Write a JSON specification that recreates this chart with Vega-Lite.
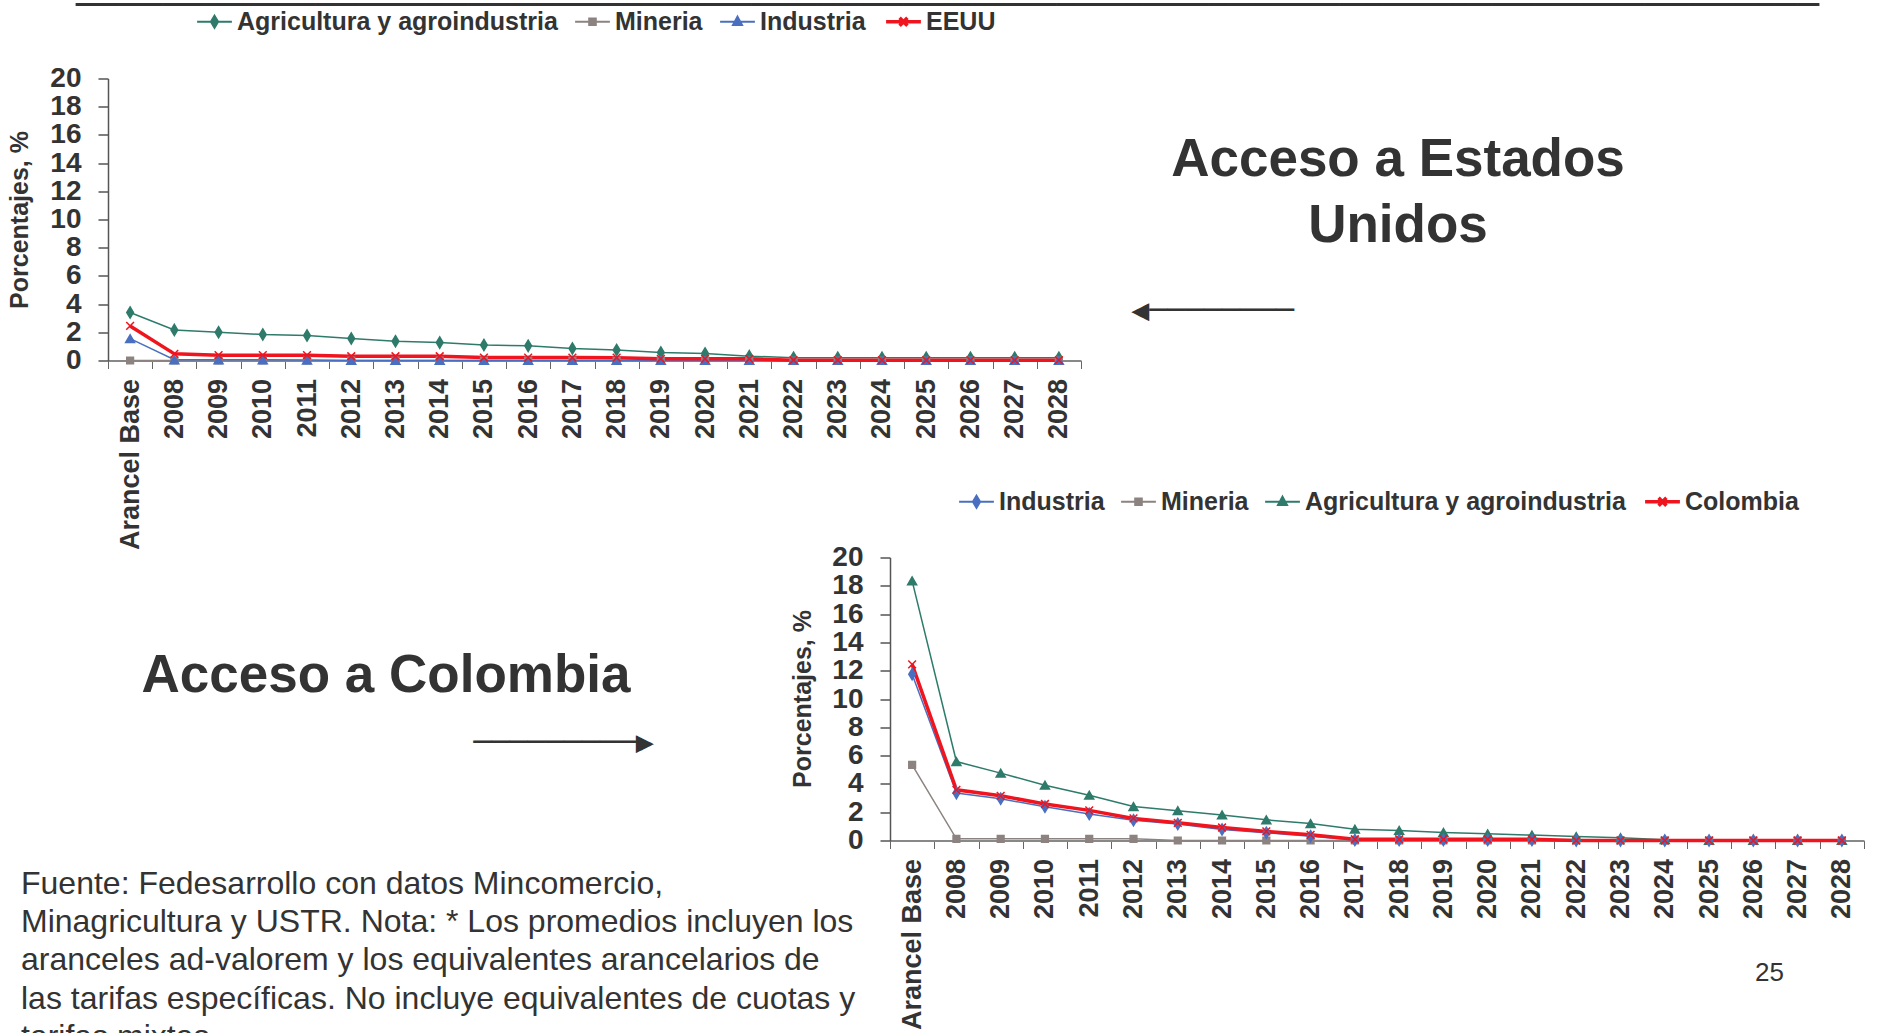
{
  "$schema": "https://vega.github.io/schema/vega-lite/v6.json",
  "autosize": {"type": "pad"},
  "padding": {"left": 7, "top": -12.5, "right": 0, "bottom": 0},
  "background": "white",
  "bounds": "flush",
  "spacing": 479,
  "config": {
    "view": {"stroke": null},
    "font": "Liberation Sans",
    "axis": {"labelFont": "Liberation Sans", "titleFont": "Liberation Sans", "grid": false},
    "legend": {"labelFont": "Liberation Sans"}
  },
  "resolve": {
    "scale": {"color": "independent", "shape": "independent", "stroke": "independent", "x": "independent", "y": "independent"},
    "legend": {"color": "independent", "shape": "independent"}
  },
  "datasets": {
    "eeuu": [
      {"c":"Arancel Base","s":"Agricultura y agroindustria","v":3.4},{"c":"2008","s":"Agricultura y agroindustria","v":2.17},{"c":"2009","s":"Agricultura y agroindustria","v":2.0},{"c":"2010","s":"Agricultura y agroindustria","v":1.84},{"c":"2011","s":"Agricultura y agroindustria","v":1.77},{"c":"2012","s":"Agricultura y agroindustria","v":1.56},{"c":"2013","s":"Agricultura y agroindustria","v":1.37},{"c":"2014","s":"Agricultura y agroindustria","v":1.27},{"c":"2015","s":"Agricultura y agroindustria","v":1.1},{"c":"2016","s":"Agricultura y agroindustria","v":1.04},{"c":"2017","s":"Agricultura y agroindustria","v":0.85},{"c":"2018","s":"Agricultura y agroindustria","v":0.75},{"c":"2019","s":"Agricultura y agroindustria","v":0.57},{"c":"2020","s":"Agricultura y agroindustria","v":0.5},{"c":"2021","s":"Agricultura y agroindustria","v":0.31},{"c":"2022","s":"Agricultura y agroindustria","v":0.19},{"c":"2023","s":"Agricultura y agroindustria","v":0.19},{"c":"2024","s":"Agricultura y agroindustria","v":0.19},{"c":"2025","s":"Agricultura y agroindustria","v":0.19},{"c":"2026","s":"Agricultura y agroindustria","v":0.19},{"c":"2027","s":"Agricultura y agroindustria","v":0.19},{"c":"2028","s":"Agricultura y agroindustria","v":0.19},
      {"c":"Arancel Base","s":"Mineria","v":0},{"c":"2008","s":"Mineria","v":0},{"c":"2009","s":"Mineria","v":0},{"c":"2010","s":"Mineria","v":0},{"c":"2011","s":"Mineria","v":0},{"c":"2012","s":"Mineria","v":0},{"c":"2013","s":"Mineria","v":0},{"c":"2014","s":"Mineria","v":0},{"c":"2015","s":"Mineria","v":0},{"c":"2016","s":"Mineria","v":0},{"c":"2017","s":"Mineria","v":0},{"c":"2018","s":"Mineria","v":0},{"c":"2019","s":"Mineria","v":0},{"c":"2020","s":"Mineria","v":0},{"c":"2021","s":"Mineria","v":0},{"c":"2022","s":"Mineria","v":0},{"c":"2023","s":"Mineria","v":0},{"c":"2024","s":"Mineria","v":0},{"c":"2025","s":"Mineria","v":0},{"c":"2026","s":"Mineria","v":0},{"c":"2027","s":"Mineria","v":0},{"c":"2028","s":"Mineria","v":0},
      {"c":"Arancel Base","s":"Industria","v":1.55},{"c":"2008","s":"Industria","v":0.05},{"c":"2009","s":"Industria","v":0.05},{"c":"2010","s":"Industria","v":0.05},{"c":"2011","s":"Industria","v":0.03},{"c":"2012","s":"Industria","v":0},{"c":"2013","s":"Industria","v":0},{"c":"2014","s":"Industria","v":0},{"c":"2015","s":"Industria","v":0},{"c":"2016","s":"Industria","v":0},{"c":"2017","s":"Industria","v":0},{"c":"2018","s":"Industria","v":0},{"c":"2019","s":"Industria","v":0},{"c":"2020","s":"Industria","v":0},{"c":"2021","s":"Industria","v":0},{"c":"2022","s":"Industria","v":0},{"c":"2023","s":"Industria","v":0},{"c":"2024","s":"Industria","v":0},{"c":"2025","s":"Industria","v":0},{"c":"2026","s":"Industria","v":0},{"c":"2027","s":"Industria","v":0},{"c":"2028","s":"Industria","v":0},
      {"c":"Arancel Base","s":"EEUU","v":2.45},{"c":"2008","s":"EEUU","v":0.47},{"c":"2009","s":"EEUU","v":0.38},{"c":"2010","s":"EEUU","v":0.38},{"c":"2011","s":"EEUU","v":0.38},{"c":"2012","s":"EEUU","v":0.3},{"c":"2013","s":"EEUU","v":0.3},{"c":"2014","s":"EEUU","v":0.3},{"c":"2015","s":"EEUU","v":0.21},{"c":"2016","s":"EEUU","v":0.21},{"c":"2017","s":"EEUU","v":0.21},{"c":"2018","s":"EEUU","v":0.2},{"c":"2019","s":"EEUU","v":0.12},{"c":"2020","s":"EEUU","v":0.12},{"c":"2021","s":"EEUU","v":0.12},{"c":"2022","s":"EEUU","v":0.02},{"c":"2023","s":"EEUU","v":0.02},{"c":"2024","s":"EEUU","v":0.02},{"c":"2025","s":"EEUU","v":0.02},{"c":"2026","s":"EEUU","v":0.02},{"c":"2027","s":"EEUU","v":0.02},{"c":"2028","s":"EEUU","v":0.02}
    ],
    "col": [
      {"c":"Arancel Base","s":"Mineria","v":5.35},{"c":"2008","s":"Mineria","v":0.12},{"c":"2009","s":"Mineria","v":0.12},{"c":"2010","s":"Mineria","v":0.12},{"c":"2011","s":"Mineria","v":0.12},{"c":"2012","s":"Mineria","v":0.12},{"c":"2013","s":"Mineria","v":0},{"c":"2014","s":"Mineria","v":0},{"c":"2015","s":"Mineria","v":0},{"c":"2016","s":"Mineria","v":0},{"c":"2017","s":"Mineria","v":0},{"c":"2018","s":"Mineria","v":0},{"c":"2019","s":"Mineria","v":0},{"c":"2020","s":"Mineria","v":0},{"c":"2021","s":"Mineria","v":0},{"c":"2022","s":"Mineria","v":0},{"c":"2023","s":"Mineria","v":0},{"c":"2024","s":"Mineria","v":0},{"c":"2025","s":"Mineria","v":0},{"c":"2026","s":"Mineria","v":0},{"c":"2027","s":"Mineria","v":0},{"c":"2028","s":"Mineria","v":0},
      {"c":"Arancel Base","s":"Agricultura y agroindustria","v":18.35},{"c":"2008","s":"Agricultura y agroindustria","v":5.58},{"c":"2009","s":"Agricultura y agroindustria","v":4.76},{"c":"2010","s":"Agricultura y agroindustria","v":3.91},{"c":"2011","s":"Agricultura y agroindustria","v":3.2},{"c":"2012","s":"Agricultura y agroindustria","v":2.4},{"c":"2013","s":"Agricultura y agroindustria","v":2.11},{"c":"2014","s":"Agricultura y agroindustria","v":1.81},{"c":"2015","s":"Agricultura y agroindustria","v":1.46},{"c":"2016","s":"Agricultura y agroindustria","v":1.2},{"c":"2017","s":"Agricultura y agroindustria","v":0.8},{"c":"2018","s":"Agricultura y agroindustria","v":0.71},{"c":"2019","s":"Agricultura y agroindustria","v":0.57},{"c":"2020","s":"Agricultura y agroindustria","v":0.47},{"c":"2021","s":"Agricultura y agroindustria","v":0.38},{"c":"2022","s":"Agricultura y agroindustria","v":0.28},{"c":"2023","s":"Agricultura y agroindustria","v":0.2},{"c":"2024","s":"Agricultura y agroindustria","v":0.06},{"c":"2025","s":"Agricultura y agroindustria","v":0},{"c":"2026","s":"Agricultura y agroindustria","v":0},{"c":"2027","s":"Agricultura y agroindustria","v":0},{"c":"2028","s":"Agricultura y agroindustria","v":0},
      {"c":"Arancel Base","s":"Industria","v":11.75},{"c":"2008","s":"Industria","v":3.35},{"c":"2009","s":"Industria","v":2.95},{"c":"2010","s":"Industria","v":2.38},{"c":"2011","s":"Industria","v":1.88},{"c":"2012","s":"Industria","v":1.43},{"c":"2013","s":"Industria","v":1.17},{"c":"2014","s":"Industria","v":0.78},{"c":"2015","s":"Industria","v":0.55},{"c":"2016","s":"Industria","v":0.3},{"c":"2017","s":"Industria","v":0.03},{"c":"2018","s":"Industria","v":0.03},{"c":"2019","s":"Industria","v":0.03},{"c":"2020","s":"Industria","v":0.03},{"c":"2021","s":"Industria","v":0.03},{"c":"2022","s":"Industria","v":0},{"c":"2023","s":"Industria","v":0},{"c":"2024","s":"Industria","v":0},{"c":"2025","s":"Industria","v":0},{"c":"2026","s":"Industria","v":0},{"c":"2027","s":"Industria","v":0},{"c":"2028","s":"Industria","v":0},
      {"c":"Arancel Base","s":"Colombia","v":12.45},{"c":"2008","s":"Colombia","v":3.58},{"c":"2009","s":"Colombia","v":3.16},{"c":"2010","s":"Colombia","v":2.58},{"c":"2011","s":"Colombia","v":2.13},{"c":"2012","s":"Colombia","v":1.56},{"c":"2013","s":"Colombia","v":1.25},{"c":"2014","s":"Colombia","v":0.92},{"c":"2015","s":"Colombia","v":0.64},{"c":"2016","s":"Colombia","v":0.4},{"c":"2017","s":"Colombia","v":0.09},{"c":"2018","s":"Colombia","v":0.09},{"c":"2019","s":"Colombia","v":0.09},{"c":"2020","s":"Colombia","v":0.09},{"c":"2021","s":"Colombia","v":0.09},{"c":"2022","s":"Colombia","v":0},{"c":"2023","s":"Colombia","v":0},{"c":"2024","s":"Colombia","v":0},{"c":"2025","s":"Colombia","v":0},{"c":"2026","s":"Colombia","v":0},{"c":"2027","s":"Colombia","v":0},{"c":"2028","s":"Colombia","v":0}
    ]
  },
  "vconcat": [
    {
      "bounds": "flush",
      "spacing": 17,
      "resolve": {"scale": {"color": "independent"}, "legend": {"color": "independent", "shape": "independent"}},
      "hconcat": [
        {
          "width": 973,
          "height": 282,
          "data": {"name": "eeuu"},
          "title": {"text": "────────────────────────────────────────────────────────────────────────────────", "font": "DejaVu Sans Mono", "fontSize": 36.2, "fontWeight": "normal", "color": "#333333", "anchor": "start", "frame": "group", "orient": "top", "offset": 0, "baseline": "middle", "dx": -32, "dy": 33},
          "encoding": {
            "x": {"field": "c", "type": "nominal", "sort": null, "bandPosition": 0.5,
              "scale": {"type": "band", "paddingInner": 0, "paddingOuter": 0},
              "axis": {"title": "◀────────", "titleFont": "DejaVu Sans Mono", "titleFontSize": 30, "titleFontWeight": "normal", "titleColor": "#333333", "titleX": 1104, "titleY": -50, "titleAlign": "center", "titleBaseline": "middle", "titleAngle": 0,
                "labelAngle": -90, "labelFontSize": 27, "labelFontWeight": "bold", "labelColor": "#333333", "labelPadding": 10, "tickBand": "extent", "tickSize": 8, "tickColor": "#666666", "domainColor": "#888888", "domainWidth": 2, "labelOverlap": false, "labelFlush": false, "labelBound": false}},
            "y": {"field": "v", "type": "quantitative", "scale": {"domain": [0, 20], "nice": false},
              "axis": {"title": "Porcentajes, %", "values": [0, 2, 4, 6, 8, 10, 12, 14, 16, 18, 20], "titleX": -89, "titleY": 141, "titleAngle": -90, "titleAlign": "center", "titleBaseline": "middle", "titleFontSize": 25, "titleFontWeight": "bold", "titleColor": "#333333",
                "labelFontSize": 28, "labelFontWeight": "bold", "labelColor": "#333333", "labelPadding": 17, "tickSize": 10, "tickColor": "#555555", "tickWidth": 1.5, "domainColor": "#555555", "domainWidth": 1.5}},
            "color": {"field": "s", "type": "nominal",
              "scale": {"domain": ["Agricultura y agroindustria", "Mineria", "Industria", "EEUU"], "range": ["#2e7b6b", "#8c8380", "#4a6fc0", "#f0141e"]},
              "legend": {"title": null, "orient": "none", "legendX": 94, "legendY": -69.5, "direction": "horizontal", "labelFontSize": 25, "labelFontWeight": "bold", "labelColor": "#333333", "labelLimit": 1000, "labelOffset": 10, "columnPadding": 13, "symbolSize": 144, "symbolStrokeWidth": 2, "padding": 0,
                "encode": {"symbols": {"update": {
                  "shape": {"signal": "datum.value === 'Agricultura y agroindustria' ? 'M-2.9,0H2.9M0,-1L0.6,0L0,1L-0.6,0Z' : datum.value === 'Mineria' ? 'M-2.9,0H2.9M-0.55,-0.55H0.55V0.55H-0.55Z' : datum.value === 'Industria' ? 'M-2.9,0H2.9M0,-0.85L0.75,0.55H-0.75Z' : 'M-2.9,0H2.9M-0.65,-0.65L0.65,0.65M-0.65,0.65L0.65,-0.65'"},
                  "strokeWidth": {"signal": "datum.value === 'EEUU' ? 3.5 : 2"},
                  "opacity": {"value": 1}
                }}}}}
          },
          "layer": [
            {"mark": {"type": "line"}, "encoding": {"strokeWidth": {"condition": {"test": "datum.s === 'EEUU'", "value": 3.5}, "value": 1.5}}},
            {"mark": {"type": "point", "filled": true, "opacity": 1, "strokeWidth": 1.5},
             "encoding": {
               "shape": {"field": "s", "type": "nominal", "legend": null, "scale": {"domain": ["EEUU", "Industria", "Mineria", "Agricultura y agroindustria"], "range": ["M-1,-1L1,1M-1,1L1,-1", "triangle-up", "square", "M0,-1.25L0.75,0L0,1.25L-0.75,0Z"]}},
               "stroke": {"field": "s", "type": "nominal", "legend": null, "scale": {"domain": ["EEUU", "Mineria", "Industria", "Agricultura y agroindustria"], "range": ["#f0141e", "#8c8380", "#4a6fc0", "#2e7b6b"]}},
               "size": {"condition": [{"test": "datum.s === 'Mineria'", "value": 45}, {"test": "datum.s === 'EEUU'", "value": 60}], "value": 80}
             }}
          ]
        },
        {
          "width": 600,
          "height": 162,
          "data": {"values": [{"t": "Acceso a Estados\nUnidos"}]},
          "mark": {"type": "text", "lineBreak": "\n", "font": "Liberation Sans", "fontSize": 53, "fontWeight": "bold", "color": "#333333", "align": "center", "baseline": "middle", "lineHeight": 66},
          "encoding": {"text": {"field": "t", "type": "nominal"}}
        }
      ]
    },
    {
      "bounds": "flush",
      "spacing": 226,
      "resolve": {"scale": {"color": "independent"}, "legend": {"color": "independent", "shape": "independent"}},
      "hconcat": [
        {
          "width": 556,
          "height": 236,
          "data": {"values": [{"t": "Acceso a Colombia"}]},
          "title": {"text": ["Fuente: Fedesarrollo con datos Mincomercio,", "Minagricultura y USTR. Nota: * Los promedios incluyen los", "aranceles ad-valorem y los equivalentes arancelarios de", "las tarifas específicas. No incluye equivalentes de cuotas y", "tarifas mixtas."],
            "orient": "bottom", "anchor": "start", "frame": "group", "align": "left", "baseline": "top", "font": "Liberation Sans", "fontSize": 32, "fontWeight": "normal", "color": "#333333", "lineHeight": 38.4, "offset": 0, "dx": -87, "dy": 75},
          "mark": {"type": "text", "font": "Liberation Sans", "fontSize": 53, "fontWeight": "bold", "color": "#333333", "align": "center", "baseline": "middle"},
          "encoding": {"text": {"field": "t", "type": "nominal"}}
        },
        {
          "width": 974,
          "height": 283,
          "data": {"name": "col"},
          "title": {"text": "25", "orient": "bottom", "anchor": "end", "frame": "group", "align": "right", "baseline": "top", "font": "Liberation Sans", "fontSize": 26, "fontWeight": "normal", "color": "#333333", "offset": 0, "dx": -80, "dy": -70},
          "encoding": {
            "x": {"field": "c", "type": "nominal", "sort": null, "bandPosition": 0.5,
              "scale": {"type": "band", "paddingInner": 0, "paddingOuter": 0},
              "axis": {"title": "─────────▶", "titleFont": "DejaVu Sans Mono", "titleFontSize": 30, "titleFontWeight": "normal", "titleColor": "#333333", "titleX": -327, "titleY": -98, "titleAlign": "center", "titleBaseline": "middle", "titleAngle": 0,
                "labelAngle": -90, "labelFontSize": 27, "labelFontWeight": "bold", "labelColor": "#333333", "labelPadding": 10, "tickBand": "extent", "tickSize": 8, "tickColor": "#666666", "domainColor": "#888888", "domainWidth": 2, "labelOverlap": false, "labelFlush": false, "labelBound": false}},
            "y": {"field": "v", "type": "quantitative", "scale": {"domain": [0, 20], "nice": false},
              "axis": {"title": "Porcentajes, %", "values": [0, 2, 4, 6, 8, 10, 12, 14, 16, 18, 20], "titleX": -88, "titleY": 141, "titleAngle": -90, "titleAlign": "center", "titleBaseline": "middle", "titleFontSize": 25, "titleFontWeight": "bold", "titleColor": "#333333",
                "labelFontSize": 28, "labelFontWeight": "bold", "labelColor": "#333333", "labelPadding": 17, "tickSize": 10, "tickColor": "#555555", "tickWidth": 1.5, "domainColor": "#555555", "domainWidth": 1.5}},
            "color": {"field": "s", "type": "nominal",
              "scale": {"domain": ["Industria", "Mineria", "Agricultura y agroindustria", "Colombia"], "range": ["#4a6fc0", "#8c8380", "#2e7b6b", "#f0141e"]},
              "legend": {"title": null, "orient": "none", "legendX": 74, "legendY": -68.5, "direction": "horizontal", "labelFontSize": 25, "labelFontWeight": "bold", "labelColor": "#333333", "labelLimit": 1000, "labelOffset": 10, "columnPadding": 12, "symbolSize": 144, "symbolStrokeWidth": 2, "padding": 0,
                "encode": {"symbols": {"update": {
                  "shape": {"signal": "datum.value === 'Industria' ? 'M-2.9,0H2.9M0,-1L0.6,0L0,1L-0.6,0Z' : datum.value === 'Mineria' ? 'M-2.9,0H2.9M-0.55,-0.55H0.55V0.55H-0.55Z' : datum.value === 'Agricultura y agroindustria' ? 'M-2.9,0H2.9M0,-0.85L0.75,0.55H-0.75Z' : 'M-2.9,0H2.9M-0.65,-0.65L0.65,0.65M-0.65,0.65L0.65,-0.65'"},
                  "strokeWidth": {"signal": "datum.value === 'Colombia' ? 3.5 : 2"},
                  "opacity": {"value": 1}
                }}}}}
          },
          "layer": [
            {"mark": {"type": "line"}, "encoding": {"strokeWidth": {"condition": {"test": "datum.s === 'Colombia'", "value": 3.5}, "value": 1.5}}},
            {"mark": {"type": "point", "filled": true, "opacity": 1, "strokeWidth": 1.5},
             "encoding": {
               "shape": {"field": "s", "type": "nominal", "legend": null, "scale": {"domain": ["Colombia", "Agricultura y agroindustria", "Mineria", "Industria"], "range": ["M-1,-1L1,1M-1,1L1,-1", "triangle-up", "square", "M0,-1.25L0.75,0L0,1.25L-0.75,0Z"]}},
               "stroke": {"field": "s", "type": "nominal", "legend": null, "scale": {"domain": ["Colombia", "Mineria", "Agricultura y agroindustria", "Industria"], "range": ["#f0141e", "#8c8380", "#2e7b6b", "#4a6fc0"]}},
               "size": {"condition": [{"test": "datum.s === 'Mineria'", "value": 45}, {"test": "datum.s === 'Colombia'", "value": 60}], "value": 80}
             }}
          ]
        }
      ]
    }
  ]
}
